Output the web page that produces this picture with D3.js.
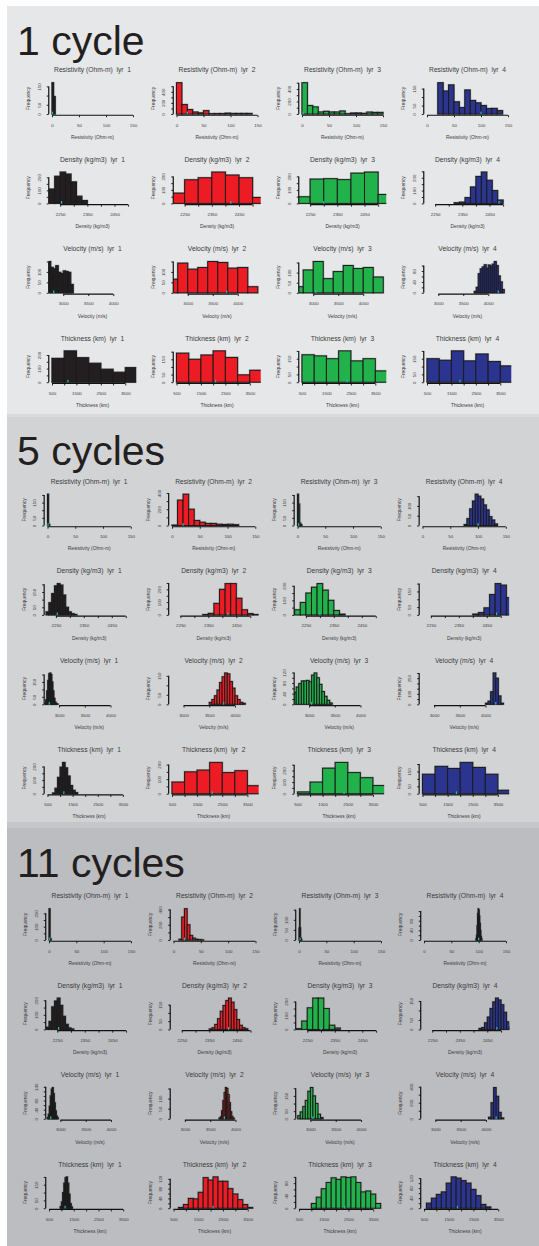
<!DOCTYPE html>
<html>
<head>
<meta charset="utf-8">
<script src="https://cdn.jsdelivr.net/npm/d3@7"></script>
<style>
  body { margin: 0; background: #ffffff; }
  svg { display: block; font-family: "Liberation Sans", Arial, Helvetica, sans-serif; }
</style>
</head>
<body>
<div id="chart"></div>
<script>
// ---- data ----
const cycleLabels = ["1 cycle", "5 cycles", "11 cycles"];
const variableNames = ["Resistivity (Ohm-m)", "Density (kg/m3)", "Velocity (m/s)", "Thickness (km)"];
const layerNames = ["lyr  1", "lyr  2", "lyr  3", "lyr  4"];
const layerColors = ["#231f20", "#ed1c24", "#22b24c", "#2b3590"];

const xLimits = [[0, 150], [2220, 2518], [2775, 4395], [500, 3815]];
const xTicks = [
  [0, 50, 100, 150],
  [2250, 2300, 2350, 2400, 2450, 2500],
  [3000, 3500, 4000],
  [500, 1000, 1500, 2000, 2500, 3000, 3500]
];
const xTickLabels = [
  [0, 50, 100, 150],
  [2250, 2350, 2450],
  [3000, 3500, 4000],
  [500, 1500, 2500, 3500]
];
// true model values (cyan marks), per variable, per layer
const trueValues = [
  [1, 20, 2, 100],
  [2255, 2420, 2300, 2485],
  [2810, 3780, 3050, 4200],
  [1150, 2100, 2350, 1850]
];

// histograms: [first break, bin width, counts] for layers 1..4
const res1 = [
  [0, 3, [170, 95]],
  [0, 10, [564, 170, 80, 36, 20, 60, 6, 8, 8, 15, 10, 10, 10, 10]],
  [0, 10, [500, 135, 113, 32, 43, 32, 32, 48, 5, 16, 16, 10, 30, 25, 25]],
  [20, 10, [185, 136, 172, 72, 38, 142, 80, 66, 50, 32, 33, 20]]
];
const den1 = [
  [2210, 20, [110, 208, 240, 225, 165, 55, 22]],
  [2200, 50, [76, 175, 190, 232, 210, 190, 44]],
  [2200, 50, [49, 180, 183, 176, 224, 232, 66]],
  [2320, 20, [5, 10, 45, 128, 210, 244, 180, 100, 26]]
];
const vel1 = [
  [2700, 50, [150, 122, 115, 130, 98, 92, 105, 102, 98, 40]],
  [2600, 200, [65, 142, 113, 121, 150, 145, 118, 121, 29]],
  [2600, 200, [30, 113, 155, 70, 105, 135, 120, 125, 78]],
  [3720, 40, [5, 20, 70, 88, 95, 103, 90, 102, 98, 105, 115, 100, 62, 40, 12]]
];
const thk1 = [
  [500, 500, [175, 230, 180, 139, 95, 73, 107]],
  [500, 500, [190, 150, 178, 205, 162, 48, 78]],
  [500, 500, [175, 168, 150, 200, 136, 150, 72]],
  [500, 500, [150, 140, 200, 136, 180, 132, 104]]
];

const res5 = [
  [0, 2, [205, 8]],
  [0, 10, [5, 312, 385, 200, 62, 40, 25, 25, 15, 12, 15, 10]],
  [0, 2, [205, 140, 15, 5]],
  [75, 5, [5, 35, 85, 125, 160, 150, 135, 105, 80, 45, 28, 8]]
];
const den5 = [
  [2215, 10, [20, 80, 140, 190, 205, 195, 130, 50, 20, 8, 3]],
  [2330, 20, [3, 12, 90, 200, 245, 245, 130, 40, 10, 3]],
  [2210, 20, [35, 85, 150, 190, 215, 170, 100, 30, 5]],
  [2400, 20, [5, 15, 45, 130, 200, 190, 110, 40]]
];
const vel5 = [
  [2720, 20, [5, 30, 90, 160, 205, 210, 200, 150, 90, 40, 15, 5, 2]],
  [3500, 50, [10, 25, 45, 75, 115, 145, 165, 160, 120, 85, 45, 25, 10, 5]],
  [2700, 50, [45, 65, 78, 88, 88, 90, 85, 110, 118, 100, 75, 48, 30, 15, 5]],
  [4000, 50, [10, 30, 120, 300, 250, 80, 10]]
];
const thk5 = [
  [700, 100, [5, 40, 120, 195, 230, 190, 130, 60, 25, 8]],
  [500, 500, [80, 150, 162, 215, 145, 158, 55]],
  [500, 500, [15, 100, 220, 270, 182, 138, 70]],
  [500, 500, [131, 184, 170, 211, 177, 131, 23]]
];

const res11 = [
  [0, 2, [235, 10]],
  [10, 5, [10, 300, 410, 200, 60, 25, 10, 5, 3]],
  [0, 1, [60, 155, 60, 10, 3]],
  [95, 1, [5, 20, 60, 110, 130, 125, 100, 70, 40, 15, 5]]
];
const den11 = [
  [2210, 10, [15, 55, 155, 195, 215, 165, 90, 35, 10, 3]],
  [2350, 10, [3, 10, 30, 65, 110, 145, 175, 190, 165, 120, 60, 25, 10, 4]],
  [2210, 20, [5, 60, 155, 225, 225, 150, 30, 10]],
  [2420, 10, [5, 10, 35, 65, 110, 145, 165, 155, 130, 90, 40, 12]]
];
const vel11 = [
  [2740, 20, [5, 20, 55, 100, 130, 137, 110, 70, 35, 12, 4]],
  [3675, 25, [3, 10, 40, 90, 130, 155, 150, 120, 80, 35, 12, 3]],
  [2750, 50, [20, 45, 80, 120, 180, 205, 150, 100, 30, 8]],
  [4050, 50, [20, 200, 390, 280, 80, 10]]
];
const thk11 = [
  [950, 50, [10, 40, 100, 160, 195, 200, 160, 90, 30, 8]],
  [700, 200, [3, 15, 40, 38, 65, 125, 115, 128, 110, 110, 80, 58, 35, 15, 3]],
  [1000, 200, [15, 35, 62, 82, 97, 92, 100, 98, 100, 82, 52, 55, 45, 15]],
  [600, 200, [20, 40, 55, 65, 100, 125, 120, 110, 100, 75, 50, 15, 5]]
];

const histSets = [
  [res1, den1, vel1, thk1],
  [res5, den5, vel5, thk5],
  [res11, den11, vel11, thk11]
];

// ---- layout ----
const panelTop = [6, 417, 828];
const panelBottom = [414, 822, 1246];
const panelFill = ["#e6e7e8", "#d2d3d5", "#bcbdc0"];
const gapFill = ["#d9dadb", "#c6c7c9"];
const labelY = [55, 465, 877];
const rowStart = [70, 481.5, 896];
const rowStep = 89.4;
const panelX0 = [52, 47.5, 49];
const panelW = [81, 83.3, 82];
const colOffset = [0, 124.5, 250, 375];
const dataH = 31.3;
const tickFont = 4.4;

const svg = d3.select("#chart").append("svg")
    .attr("width", 539)
    .attr("height", 1246);

// thin bands between the panels
gapFill.forEach((f, i) => {
    svg.append("rect")
        .attr("x", 7)
        .attr("y", panelBottom[i])
        .attr("width", 532)
        .attr("height", panelTop[i + 1] - panelBottom[i])
        .attr("fill", f);
});

cycleLabels.forEach((label, p) => {
    svg.append("rect")
        .attr("x", 7)
        .attr("y", panelTop[p])
        .attr("width", 532)
        .attr("height", panelBottom[p] - panelTop[p])
        .attr("fill", panelFill[p]);

    svg.append("text")
        .attr("x", 17)
        .attr("y", labelY[p])
        .attr("font-size", 41)
        .attr("fill", "#231f20")
        .text(label);

    variableNames.forEach((v, r) => {
        layerNames.forEach((l, c) => drawHist(p, r, c));
    });
});

function drawHist(p, r, c) {
    const [start, width, counts] = histSets[p][r][c];
    const T = rowStart[p] + r * rowStep;
    const x0 = panelX0[p] + colOffset[c];
    const w = panelW[p];
    const zeroY = T + 44;
    const maxN = d3.max(counts);

    const x = d3.scaleLinear().domain(xLimits[r]).range([x0, x0 + w]);
    // y domain padded 4% like R's usr
    const y = d3.scaleLinear()
        .domain([-0.04 * maxN, 1.04 * maxN])
        .range([zeroY + 0.04 * dataH, zeroY - 1.04 * dataH]);

    const left = x0 - 0.04 * w, right = x0 + 1.04 * w;
    const top = y(1.04 * maxN), bottom = y(-0.04 * maxN);

    const g = svg.append("g");
    const id = `clip-${p}-${r}-${c}`;
    g.append("clipPath").attr("id", id)
        .append("rect")
        .attr("x", left).attr("y", top)
        .attr("width", right - left).attr("height", bottom - top);

    const bins = counts.map((n, i) => ({ lo: start + i * width, hi: start + (i + 1) * width, n: n }));

    const bars = g.append("g").attr("clip-path", `url(#${id})`);
    // soft grey halo under the outlines, then the bars themselves
    bars.selectAll("rect.halo")
        .data(bins)
        .join("rect")
        .attr("class", "halo")
        .attr("x", d => x(d.lo))
        .attr("y", d => y(d.n))
        .attr("width", d => x(d.hi) - x(d.lo))
        .attr("height", d => y(0) - y(d.n))
        .attr("fill", "none")
        .attr("stroke", "#6f7072")
        .attr("stroke-opacity", 0.55)
        .attr("stroke-width", 2);
    bars.selectAll("rect.bar")
        .data(bins)
        .join("rect")
        .attr("class", "bar")
        .attr("x", d => x(d.lo))
        .attr("y", d => y(d.n))
        .attr("width", d => x(d.hi) - x(d.lo))
        .attr("height", d => y(0) - y(d.n))
        .attr("fill", layerColors[c])
        .attr("stroke", "#1b1b1b")
        .attr("stroke-width", 1);

    // true value mark
    g.append("rect")
        .attr("x", x(trueValues[r][c]) - 0.6)
        .attr("y", y(0) - 2.4)
        .attr("width", 1.2)
        .attr("height", 2.8)
        .attr("fill", "#27b8b4");

    // x axis
    const ticks = xTicks[r];
    const xAxis = d3.axisBottom(x)
        .tickValues(ticks)
        .tickSize(2)
        .tickPadding(6.2)
        .tickFormat(t => xTickLabels[r].includes(t) ? t : "");
    const ax = g.append("g")
        .attr("transform", `translate(0,${bottom})`)
        .call(xAxis)
        .attr("font-size", null)
        .attr("font-family", null);
    ax.select(".domain")
        .attr("d", `M${x(ticks[0])},0H${x(ticks[ticks.length - 1])}`)
        .attr("stroke", "#111")
        .attr("stroke-width", 1.2);
    ax.selectAll(".tick line").attr("stroke", "#111").attr("stroke-width", 0.9);
    ax.selectAll("text").attr("font-size", tickFont).attr("fill", "#3a3a3a");

    // y axis: R-like label thinning (skip labels that would crowd the previous one)
    const yt = y.ticks(5).filter(t => t >= 0);
    const shown = new Set();
    let lastEnd = -Infinity;
    const gap = 0.83 * tickFont;
    yt.forEach(t => {
        const pos = y(0) - y(t);
        const half = String(t).length * 0.556 * tickFont / 2;
        if (pos - half >= lastEnd + gap) {
            shown.add(t);
            lastEnd = pos + half;
        }
    });
    const yAxis = d3.axisLeft(y)
        .tickValues(yt)
        .tickSize(2)
        .tickFormat(t => shown.has(t) ? t : "");
    const ay = g.append("g")
        .attr("transform", `translate(${left},0)`)
        .call(yAxis)
        .attr("font-size", null)
        .attr("font-family", null);
    ay.select(".domain")
        .attr("d", `M0,${y(0)}V${y(yt[yt.length - 1])}`)
        .attr("stroke", "#111")
        .attr("stroke-width", 1.2);
    ay.selectAll(".tick line").attr("stroke", "#111").attr("stroke-width", 0.9);
    ay.selectAll("text")
        .attr("x", null)
        .attr("dy", null)
        .attr("text-anchor", "middle")
        .attr("transform", "translate(-8,0) rotate(-90)")
        .attr("font-size", tickFont)
        .attr("fill", "#3a3a3a");

    // titles
    g.append("text")
        .attr("x", (left + right) / 2)
        .attr("y", T + 2.4)
        .attr("text-anchor", "middle")
        .attr("font-size", 6.7)
        .attr("fill", "#3a3a3a")
        .style("white-space", "pre")
        .text(`${variableNames[r]}  ${layerNames[c]}`);

    g.append("text")
        .attr("x", (left + right) / 2)
        .attr("y", T + 68.7)
        .attr("text-anchor", "middle")
        .attr("font-size", 4.9)
        .attr("fill", "#3a3a3a")
        .text(variableNames[r]);

    g.append("text")
        .attr("transform", `translate(${left - 18.4},${(top + bottom) / 2}) rotate(-90)`)
        .attr("text-anchor", "middle")
        .attr("font-size", 4.9)
        .attr("fill", "#3a3a3a")
        .text("Frequency");
}
</script>
</body>
</html>
